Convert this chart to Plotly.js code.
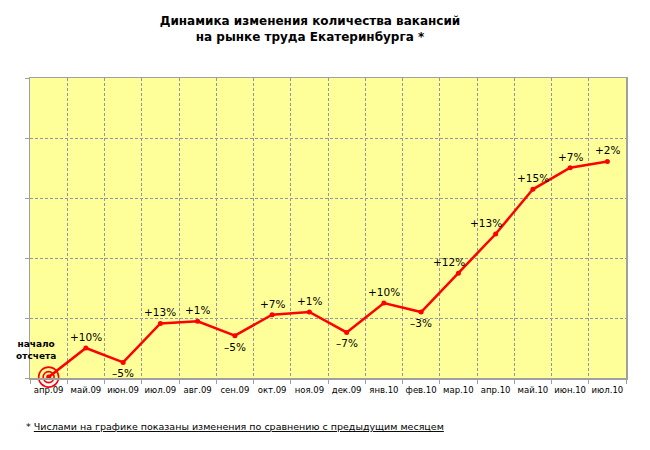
<!DOCTYPE html>
<html>
<head>
<meta charset="utf-8">
<script src="https://cdn.plot.ly/plotly-3.0.1.min.js"></script>
<style>html,body{margin:0;padding:0;background:#fff;}#chart{width:650px;height:450px;}</style>
</head>
<body>
<div id="chart"></div>
<script>
// Months (category labels)
var months = ['апр.09','май.09','июн.09','июл.09','авг.09','сен.09','окт.09','ноя.09','дек.09','янв.10','фев.10','мар.10','апр.10','май.10','июн.10','июл.10'];
// Relative vacancy level (arbitrary units; gridlines every 20)
var values = [0.3, 10.0, 5.2, 18.2, 18.9, 14.1, 21.1, 22.0, 15.2, 25.0, 22.0, 34.9, 48.0, 62.9, 70.1, 72.2];
// Month-over-month change labels
var changes = ['', '+10%', '–5%', '+13%', '+1%', '–5%', '+7%', '+1%', '–7%', '+10%', '–3%', '+12%', '+13%', '+15%', '+7%', '+2%'];

var titleText = 'Динамика изменения количества вакансий<br>на рынке труда Екатеринбурга *';
var startText = 'начало<br>отсчета';
var footText = '* <span style="text-decoration:underline">Числами на графике показаны изменения по сравнению с предыдущим месяцем</span>';

var RED = '#ff0000';
var GRID = '#9494a8';
var labelFont = {family: 'DejaVu Sans', size: 10.5, color: '#000'};
var xShift = {11: -9, 12: -10};

var traces = [
  {
    x: months, y: values, type: 'scatter', mode: 'lines+markers',
    line: {color: RED, width: 2.5},
    marker: {color: RED, size: 5},
    hoverinfo: 'skip', cliponaxis: false
  },
  {
    x: [months[0]], y: [values[0]], type: 'scatter', mode: 'markers',
    marker: {symbol: 'circle-open', size: 20, color: RED, line: {color: RED, width: 1.6}},
    hoverinfo: 'skip', cliponaxis: false
  },
  {
    x: [months[0]], y: [values[0]], type: 'scatter', mode: 'markers',
    marker: {symbol: 'circle-open', size: 11, color: RED, line: {color: RED, width: 1.6}},
    hoverinfo: 'skip', cliponaxis: false
  }
];

var annotations = [];
for (var i = 0; i < months.length; i++) {
  if (!changes[i]) continue;
  var up = changes[i].charAt(0) === '+';
  annotations.push({
    x: months[i], y: values[i], xref: 'x', yref: 'y',
    text: changes[i], showarrow: false,
    font: labelFont, xanchor: 'center', yanchor: 'middle',
    xshift: xShift[i] || 0, yshift: up ? 11 : -11
  });
}
annotations.push({
  x: months[0], y: values[0], xref: 'x', yref: 'y',
  text: '<b>' + startText + '</b>', showarrow: false,
  font: {family: 'DejaVu Sans', size: 9, color: '#000'},
  xanchor: 'center', yanchor: 'middle', align: 'center',
  xshift: -13, yshift: 27
});
annotations.push({
  x: 0, y: 0, xref: 'paper', yref: 'paper',
  text: footText, showarrow: false,
  font: {family: 'DejaVu Sans', size: 9.5, color: '#000'},
  xanchor: 'left', yanchor: 'middle', xshift: -6, yshift: -48
});

var layout = {
  width: 650, height: 450,
  margin: {l: 30, r: 24, t: 78, b: 72},
  paper_bgcolor: '#ffffff',
  plot_bgcolor: '#ffff99',
  showlegend: false,
  title: {
    text: '<b>' + titleText + '</b>',
    font: {family: 'DejaVu Sans', size: 12, color: '#000'},
    x: 310 / 650, xanchor: 'center', xref: 'container',
    y: 1 - 25 / 450, yanchor: 'top', yref: 'container'
  },
  xaxis: {
    type: 'category',
    tickson: 'boundaries',
    tickangle: 0,
    ticklabelstandoff: 3,
    showgrid: true, gridcolor: GRID, griddash: '3px,2px', gridwidth: 1,
    showline: true, linecolor: '#a0a0a0', linewidth: 1.5, mirror: true,
    ticks: 'outside', ticklen: 4, tickcolor: '#a0a0a0',
    tickfont: {family: 'DejaVu Sans', size: 8.5, color: '#000'},
    range: [-0.5, months.length - 0.5],
    fixedrange: true
  },
  yaxis: {
    range: [0, 100], dtick: 20, tick0: 0,
    showticklabels: false,
    showgrid: true, gridcolor: GRID, griddash: '3px,2px', gridwidth: 1,
    showline: true, linecolor: '#a0a0a0', linewidth: 1.5, mirror: true,
    ticks: 'outside', ticklen: 4, tickcolor: '#a0a0a0',
    zeroline: false, fixedrange: true
  },
  annotations: annotations
};

Plotly.newPlot('chart', traces, layout, {displayModeBar: false, staticPlot: true});
</script>
</body>
</html>
